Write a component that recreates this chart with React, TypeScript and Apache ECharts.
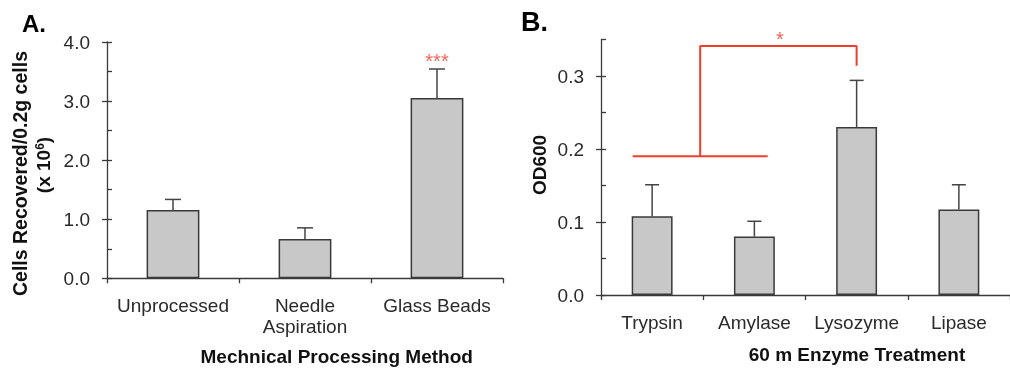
import React, { useEffect, useRef } from "react";
import * as echarts from "echarts";

// Panel A data
const categoriesA = ["Unprocessed", "Needle\nAspiration", "Glass Beads"];
const meansA = [1.155, 0.664, 3.053];
const errorsA = [0.18, 0.19, 0.49];
const sigA = [[2, 3.74]];
const sigLabelA = "***";

// Panel B data
const categoriesB = ["Trypsin", "Amylase", "Lysozyme", "Lipase"];
const meansB = [0.108, 0.08, 0.23, 0.117];
const errorsB = [0.043, 0.021, 0.064, 0.034];
const bracketLowB = [[-0.19, 0.19], [1.13, 0.19]];
const bracketHighB = [[0.47, 0.19], [0.47, 0.341], [2, 0.341], [2, 0.314]];
const sigB = [[1.25, 0.356]];
const sigLabelB = "*";

const yTicksA = [0, 1, 2, 3, 4];
const yTicksB = [0, 0.1, 0.2, 0.3];

const FONT = '"Liberation Sans", Arial, Helvetica, sans-serif';
const AX = "#3a3a3a";
const LBL = "#2a2a2a";
const RED = "#ee3f2e";
const BAR_FILL = "#c8c8c8";

function fmt(v: number, step: number) {
  const r = Math.round(v / step) * step;
  return Math.abs(v - r) < 1e-9 ? r.toFixed(1) : "";
}

function errorRender(capW: number) {
  return (params: any, api: any) => {
    const x = api.value(0);
    const p0 = api.coord([x, api.value(1)]);
    const p1 = api.coord([x, api.value(2)]);
    const style = { stroke: "#444", lineWidth: 1.5, fill: "none" };
    return {
      type: "group",
      children: [
        { type: "line", shape: { x1: p0[0], y1: p0[1], x2: p1[0], y2: p1[1] }, style },
        { type: "line", shape: { x1: p1[0] - capW / 2, y1: p1[1], x2: p1[0] + capW / 2, y2: p1[1] }, style },
      ],
    };
  };
}

export default function App() {
  const ref = useRef<HTMLDivElement>(null);
  useEffect(() => {
    if (!ref.current) return;
    const chart = echarts.init(ref.current, undefined, { renderer: "svg" });
    const catAxis = (gridIndex: number, data: string[]) => ({
      type: "category",
      gridIndex,
      data,
      position: "bottom",
      axisLine: { show: true, onZero: false, lineStyle: { color: AX, width: 1.3 } },
      axisTick: { show: true, length: 5, lineStyle: { color: AX, width: 1.3 } },
      axisLabel: { fontSize: 19, color: LBL, margin: 17, lineHeight: 21, interval: 0, fontFamily: FONT },
      splitLine: { show: false },
    });
    const mainY = (gridIndex: number, max: number, interval: number, step: number) => ({
      type: "value",
      gridIndex,
      position: "left",
      min: 0,
      max,
      interval,
      axisLine: { show: true, onZero: false, lineStyle: { color: AX, width: 1.3 } },
      axisTick: { show: true, inside: true, length: 5, lineStyle: { color: AX, width: 1.3 } },
      axisLabel: { fontSize: 19, color: LBL, margin: 17, fontFamily: FONT, formatter: (v: number) => fmt(v, step) },
      splitLine: { show: false },
    });
    const overlayY = (gridIndex: number, max: number, ticks: number[]) => ({
      type: "value",
      gridIndex,
      position: "left",
      offset: 0,
      min: 0,
      max,
      axisLine: { show: false, onZero: false },
      axisTick: { show: true, inside: false, length: 5, customValues: ticks, lineStyle: { color: AX, width: 1.3 } },
      axisLabel: { show: false },
      splitLine: { show: false },
    });
    const starSeries = (xi: number, yi: number, data: number[][], text: string) => ({
      type: "scatter",
      xAxisIndex: xi,
      yAxisIndex: yi,
      data,
      symbolSize: 1,
      clip: false,
      silent: true,
      itemStyle: { color: "rgba(0,0,0,0)" },
      label: { show: true, position: "inside", formatter: text, fontSize: 20, color: RED, offset: [0, 4], fontFamily: FONT },
      z: 5,
    });
    const option: any = {
      animation: false,
      textStyle: { fontFamily: FONT },
      grid: [
        { left: 107, top: 42, width: 396, height: 236.3 },
        { left: 601, top: 39.5, width: 415, height: 255.5 },
      ],
      xAxis: [
        catAxis(0, categoriesA),
        catAxis(1, categoriesB),
        { type: "value", gridIndex: 1, min: -0.5, max: 3.5, show: false, position: "top" },
      ],
      yAxis: [
        mainY(0, 4, 0.5, 1),
        overlayY(0, 4, yTicksA),
        mainY(1, 0.35, 0.05, 0.1),
        overlayY(1, 0.35, yTicksB),
      ],
      series: [
        {
          type: "bar", xAxisIndex: 0, yAxisIndex: 0, data: meansA, barWidth: "40%",
          itemStyle: { color: BAR_FILL, borderColor: "#3a3a3a", borderWidth: 1.5 },
        },
        {
          type: "custom", xAxisIndex: 0, yAxisIndex: 0,
          data: meansA.map((m, i) => [i, m, m + errorsA[i]]),
          encode: { x: 0, y: [1, 2] }, renderItem: errorRender(16), z: 4,
        },
        starSeries(0, 0, sigA, sigLabelA),
        {
          type: "bar", xAxisIndex: 1, yAxisIndex: 2, data: meansB, barWidth: "40%",
          itemStyle: { color: BAR_FILL, borderColor: "#3a3a3a", borderWidth: 1.5 },
        },
        {
          type: "custom", xAxisIndex: 1, yAxisIndex: 2,
          data: meansB.map((m, i) => [i, m, m + errorsB[i]]),
          encode: { x: 0, y: [1, 2] }, renderItem: errorRender(14), z: 4,
        },
        {
          type: "line", xAxisIndex: 2, yAxisIndex: 2, data: bracketLowB, symbol: "none", clip: false,
          lineStyle: { color: RED, width: 2 }, silent: true,
        },
        {
          type: "line", xAxisIndex: 2, yAxisIndex: 2, data: bracketHighB, symbol: "none", clip: false,
          lineStyle: { color: RED, width: 2 }, silent: true,
        },
        starSeries(2, 2, sigB, sigLabelB),
      ],
      graphic: [
        { type: "text", x: 22, y: 23.5, style: { text: "A.", fill: "#000", font: `bold 24px ${FONT}`, align: "left", verticalAlign: "middle" } },
        { type: "text", x: 521, y: 22, style: { text: "B.", fill: "#000", font: `bold 27px ${FONT}`, align: "left", verticalAlign: "middle" } },
        { type: "text", x: 19.5, y: 173.5, rotation: Math.PI / 2, style: { text: "Cells Recovered/0.2g cells", fill: "#111", font: `bold 19.5px ${FONT}`, align: "center", verticalAlign: "middle" } },
        {
          type: "text", x: 43, y: 165, rotation: Math.PI / 2,
          style: {
            text: "(x 10{s|6})", fill: "#111", font: `bold 19px ${FONT}`, align: "center", verticalAlign: "middle",
            rich: { s: { fontSize: 12, fontWeight: "bold", fontFamily: FONT, fill: "#111", verticalAlign: "top", padding: [0, 0, 6, 0] } },
          },
        },
        { type: "text", x: 336.7, y: 356, style: { text: "Mechnical Processing Method", fill: "#111", font: `bold 19px ${FONT}`, align: "center", verticalAlign: "middle" } },
        { type: "text", x: 857, y: 354, style: { text: "60 m Enzyme Treatment", fill: "#111", font: `bold 19px ${FONT}`, align: "center", verticalAlign: "middle" } },
        { type: "text", x: 539, y: 165, rotation: Math.PI / 2, style: { text: "OD600", fill: "#111", font: `bold 19px ${FONT}`, align: "center", verticalAlign: "middle" } },
      ],
    };
    chart.setOption(option);
    return () => chart.dispose();
  }, []);
  return <div ref={ref} style={{ position: "fixed", left: 0, top: 0, width: 1010, height: 368 }} />;
}
